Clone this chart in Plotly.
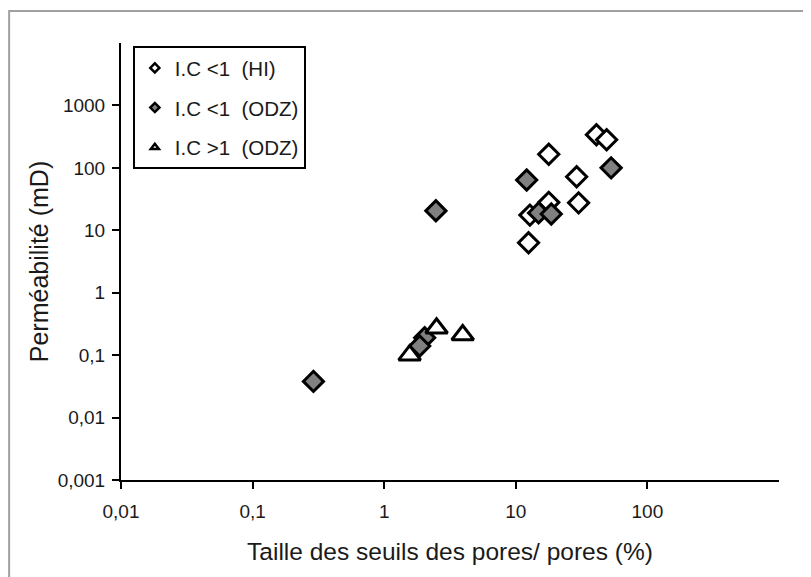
import plotly.graph_objects as go

# Data
hi_x = [17.8, 41, 49, 29, 30, 17.8, 12.5, 12.8]
hi_y = [165, 340, 282, 72, 27.5, 28, 6.3, 17.5]

odz_lt_x = [12.1, 2.47, 53, 14.9, 18.6, 0.29, 2.03, 1.86]
odz_lt_y = [64, 20.5, 100, 19, 18.2, 0.038, 0.19, 0.14]

odz_gt_x = [1.56, 2.5, 3.95]
odz_gt_y = [0.10, 0.27, 0.21]

names = ["I.C <1  (HI)", "I.C <1  (ODZ)", "I.C >1  (ODZ)"]

x_tickvals = [0.01, 0.1, 1, 10, 100]
x_ticktext = ["0,01", "0,1", "1", "10", "100"]
y_tickvals = [0.001, 0.01, 0.1, 1, 10, 100, 1000]
y_ticktext = ["0,001", "0,01", "0,1", "1", "10", "100", "1000"]

FONT = "Liberation Sans, Arial, sans-serif"

fig = go.Figure()

styles = [
    dict(symbol="diamond", color="white", size=15.5),
    dict(symbol="diamond", color="#808080", size=15.5),
    dict(symbol="triangle-up", color="white", size=19),
]
series = [(hi_x, hi_y), (odz_lt_x, odz_lt_y), (odz_gt_x, odz_gt_y)]

for (xs, ys), st, nm in zip(series, styles, names):
    fig.add_trace(go.Scatter(
        x=xs, y=ys, mode="markers", name=nm, showlegend=False,
        marker=dict(symbol=st["symbol"], color=st["color"], size=st["size"],
                    line=dict(color="black", width=3)),
    ))

# legend entries with small symbols
for i, (st, nm) in enumerate(zip(styles, names)):
    fig.add_trace(go.Scatter(
        x=[None], y=[None], mode="markers", name=nm, legendgroup=f"g{i}",
        marker=dict(symbol=st["symbol"], color=st["color"], size=7,
                    line=dict(color="black", width=2.5)),
    ))

# page body has an 8px margin, so the figure is 8px smaller and shifted
fig.update_layout(
    width=803, height=569,
    paper_bgcolor="white", plot_bgcolor="white",
    margin=dict(l=113, r=32, t=35, b=97, autoexpand=False),
    font=dict(family=FONT, color="#1a1a1a", size=19),
    showlegend=True,
    legend=dict(
        x=0.018, y=0.993, xanchor="left", yanchor="top",
        bordercolor="black", borderwidth=2, bgcolor="white",
        font=dict(family=FONT, size=20.5, color="#1a1a1a"),
        tracegroupgap=10, itemwidth=30,
    ),
    xaxis=dict(
        type="log", range=[-2, 3],
        tickvals=x_tickvals, ticktext=x_ticktext,
        showgrid=False, zeroline=False,
        showline=True, linecolor="black", linewidth=2,
        ticks="outside", ticklen=7, tickwidth=2, tickcolor="black",
        tickfont=dict(size=19), ticklabelstandoff=6,
        title=dict(text="Taille des seuils des pores/ pores (%)",
                   font=dict(size=24.5), standoff=22),
    ),
    yaxis=dict(
        type="log", range=[-3, 4],
        tickvals=y_tickvals, ticktext=y_ticktext,
        showgrid=False, zeroline=False,
        showline=True, linecolor="black", linewidth=2,
        ticks="outside", ticklen=7, tickwidth=2, tickcolor="black",
        tickfont=dict(size=19), ticklabelstandoff=3,
        title=dict(text="Perméabilité (mD)", font=dict(size=25), standoff=2),
    ),
    shapes=[dict(type="rect", xref="paper", yref="paper",
                 x0=-0.170, x1=1.06, y0=-0.24, y1=1.073,
                 line=dict(color="#a0a0a0", width=2), fillcolor="rgba(0,0,0,0)",
                 layer="below")],
)

fig.write_html("out.html")
